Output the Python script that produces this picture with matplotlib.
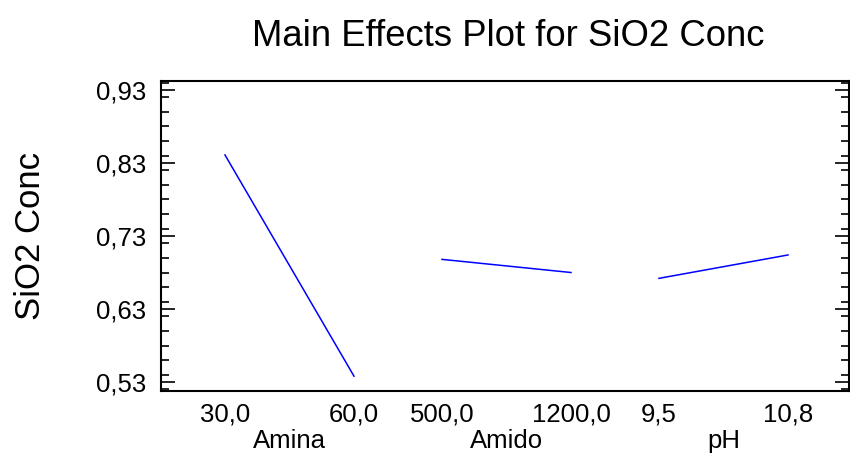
import matplotlib
matplotlib.use("Agg")
import matplotlib.pyplot as plt
from matplotlib.ticker import MultipleLocator
import matplotlib.transforms as mtransforms

plt.rcParams['font.family'] = ['Liberation Sans', 'DejaVu Sans']

# Data
factors = ["Amina", "Amido", "pH"]
low_labels = ["30,0", "500,0", "9,5"]
high_labels = ["60,0", "1200,0", "10,8"]
low_means = [0.841, 0.698, 0.672]
high_means = [0.538, 0.680, 0.704]
y_ticks = [0.53, 0.63, 0.73, 0.83, 0.93]
y_tick_labels = ["0,53", "0,63", "0,73", "0,83", "0,93"]

title = "Main Effects Plot for SiO2 Conc"
ylabel = "SiO2 Conc"

W, H = 850, 454
fig = plt.figure(figsize=(W / 100, H / 100), dpi=100)
ax = fig.add_axes([161 / W, 1 - 391 / H, (849 - 161) / W, (391 - 81) / H])

gap = 0.682
xt, xl, centers = [], [], []
for i, f in enumerate(factors):
    x0 = i * (1 + gap)
    x1 = x0 + 1
    ax.plot([x0, x1], [low_means[i], high_means[i]], color="#0000ff", lw=1.1)
    xt += [x0, x1]
    xl += [low_labels[i], high_labels[i]]
    centers.append((x0 + x1) / 2)

ax.set_xlim(-0.496, 4.837)
ax.set_ylim(0.5177, 0.9423)

fs = 18.5
ax.set_xticks(xt)
ax.set_xticklabels(xl, fontsize=fs)
ax.tick_params(axis="x", which="both", length=0, pad=8)

# factor names below the level labels
trans = mtransforms.blended_transform_factory(ax.transData, fig.transFigure)
for c, f in zip(centers, factors):
    ax.text(c, 1 - 441 / H, f, fontsize=fs, ha="center", va="center",
            transform=trans)

ax.set_yticks(y_ticks)
ax.set_yticklabels(y_tick_labels, fontsize=fs)
ax.yaxis.set_minor_locator(MultipleLocator(0.02))
ax.tick_params(axis="y", which="major", direction="in", length=10, width=1.2,
               left=True, right=True, pad=10.5)
ax.tick_params(axis="y", which="minor", direction="in", length=5.5, width=1.2,
               left=True, right=True)

for s in ax.spines.values():
    s.set_linewidth(1.5)

fig.text(508 / W, 1 - 37 / H, title, fontsize=26.3, ha="center", va="center")
fig.text(30 / W, 1 - 236 / H, ylabel, fontsize=25, rotation=90, ha="center", va="center")

fig.savefig("out.png", dpi=100)
